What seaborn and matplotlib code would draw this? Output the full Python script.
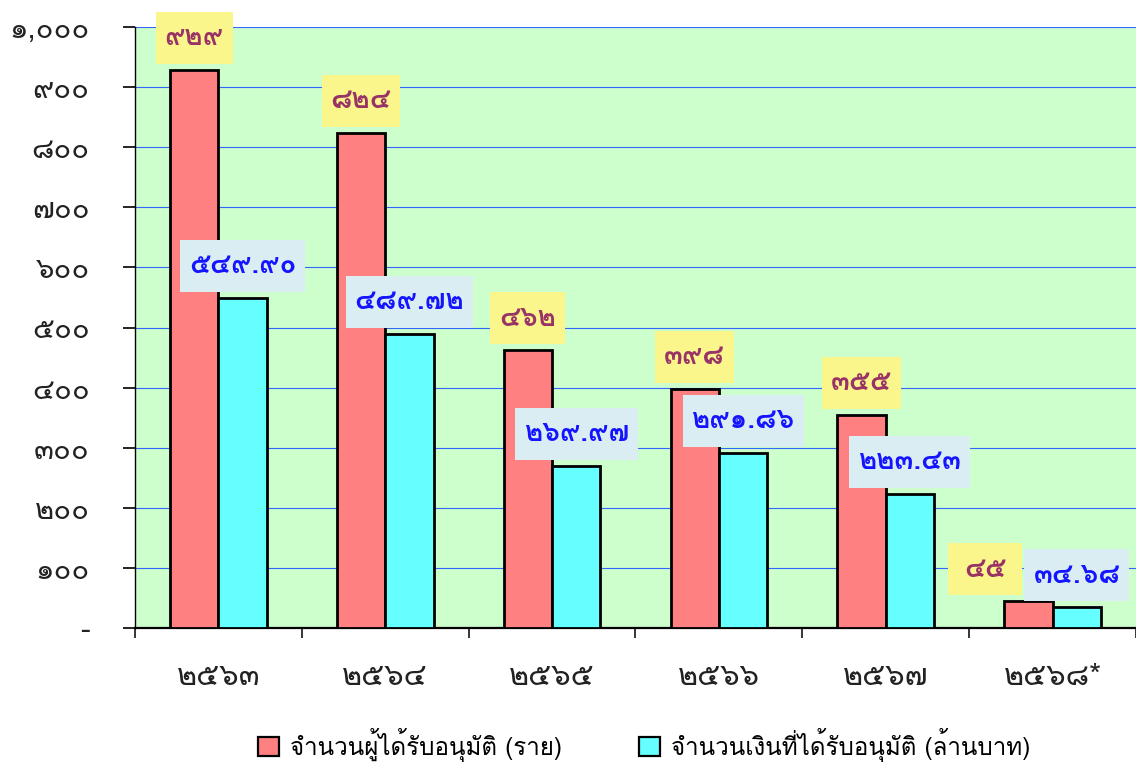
import matplotlib
matplotlib.use("Agg")
import matplotlib.pyplot as plt
from matplotlib.patches import Rectangle, Patch
import seaborn as sns
import pandas as pd

# ---------------- data ----------------
years = ["๒๕๖๓", "๒๕๖๔", "๒๕๖๕", "๒๕๖๖", "๒๕๖๗", "๒๕๖๘*"]
series_names = ["จำนวนผู้ได้รับอนุมัติ (ราย)", "จำนวนเงินที่ได้รับอนุมัติ (ล้านบาท)"]
approved_count = [929, 824, 462, 398, 355, 45]
approved_amount = [549.90, 489.72, 269.97, 291.86, 223.43, 34.68]
y_ticks = [0, 100, 200, 300, 400, 500, 600, 700, 800, 900, 1000]

THAI = str.maketrans("0123456789", "๐๑๒๓๔๕๖๗๘๙")


def thai(s):
    return s.translate(THAI)


count_labels = [thai(f"{v:d}") for v in approved_count]
amount_labels = [thai(f"{v:.2f}") for v in approved_amount]
y_tick_labels = ["-" if v == 0 else thai(f"{v:,d}") for v in y_ticks]

# ---------------- style ----------------
plt.rcParams["font.family"] = ["Loma", "DejaVu Sans"]
RED = "#ff8080"
CYAN = "#66ffff"
BG = "#ccffcc"
GRID = "#3366ff"
YELLOW_BOX = "#fbf68c"
BLUE_BOX = "#daedf3"
RED_TXT = "#993366"
BLUE_TXT = "#1414ff"

df = pd.DataFrame({
    "year": years * 2,
    "value": approved_count + approved_amount,
    "series": [series_names[0]] * len(years) + [series_names[1]] * len(years),
})

fig = plt.figure(figsize=(11.36, 7.63), dpi=100)
ax = fig.add_axes([135 / 1136, 1 - 628 / 763, 1 - 135 / 1136, (628 - 27) / 763])
ax.set_facecolor(BG)

sns.barplot(data=df, x="year", y="value", hue="series", order=years,
            hue_order=series_names, palette=[RED, CYAN], saturation=1,
            width=0.58, edgecolor="black", linewidth=2, ax=ax, zorder=3)

ax.set_xlim(-0.5, len(years) - 0.5)
ax.set_ylim(0, 1000)
ax.set_xlabel("")
ax.set_ylabel("")

# y axis
ax.set_yticks(y_ticks)
ax.set_yticklabels(y_tick_labels)
ax.tick_params(axis="y", direction="out", length=8.6, width=1.2, pad=24,
               labelsize=21, colors="black", labelcolor="#222222")
ax.yaxis.grid(True, color=GRID, linewidth=0.8, zorder=1)
ax.set_axisbelow(True)

# x axis
ax.set_xticks(range(len(years)))
ax.set_xticklabels(years)
ax.tick_params(axis="x", which="major", length=0, pad=25, labelsize=22,
               labelcolor="#222222")
ax.set_xticks([i - 0.5 for i in range(len(years) + 1)], minor=True)
ax.tick_params(axis="x", which="minor", direction="out", length=7.5, width=1.1)

for s in ["top", "right"]:
    ax.spines[s].set_visible(False)
ax.spines["left"].set_linewidth(1.0)
ax.spines["bottom"].set_linewidth(1.6)

# legend
leg = ax.get_legend()
if leg is not None:
    leg.remove()
handles = [Patch(facecolor=RED, edgecolor="black", linewidth=1.6),
           Patch(facecolor=CYAN, edgecolor="black", linewidth=1.6)]
fig.legend(handles, series_names, loc="center", bbox_to_anchor=(0.567, 0.024),
           ncol=2, frameon=False, fontsize=17.4, handlelength=0.85,
           handleheight=0.85, handletextpad=0.45, columnspacing=3.2)

# value labels
label_sets = [(count_labels, RED_TXT, YELLOW_BOX, 74),
              (amount_labels, BLUE_TXT, BLUE_BOX, 0)]
annots = []
for ci, cont in enumerate(ax.containers[:2]):
    labels, tcol, bcol, minw = label_sets[ci]
    for bi, bar in enumerate(cont):
        xc = bar.get_x() + bar.get_width() / 2
        top = bar.get_height()
        dx = -31 if (ci == 0 and bi == len(years) - 1) else 0
        t = ax.annotate(labels[bi], xy=(xc, top), xytext=(dx, 23),
                        textcoords="offset points", ha="center", va="center",
                        fontsize=20, fontweight="bold", color=tcol,
                        annotation_clip=False, zorder=6)
        annots.append((t, bcol, minw))

fig.canvas.draw()
renderer = fig.canvas.get_renderer()
inv = ax.transAxes.inverted()
for t, bcol, minw in annots:
    bb = t.get_window_extent(renderer)
    cx = (bb.x0 + bb.x1) / 2
    cy = (bb.y0 + bb.y1) / 2
    w = max(bb.width + 18, minw)
    h = 52
    (x0, y0) = inv.transform((cx - w / 2, cy - h / 2))
    (x1, y1) = inv.transform((cx + w / 2, cy + h / 2))
    ax.add_patch(Rectangle((x0, y0), x1 - x0, y1 - y0, transform=ax.transAxes,
                           facecolor=bcol, edgecolor="none", zorder=5,
                           clip_on=False))

fig.savefig("out.png", dpi=100)
